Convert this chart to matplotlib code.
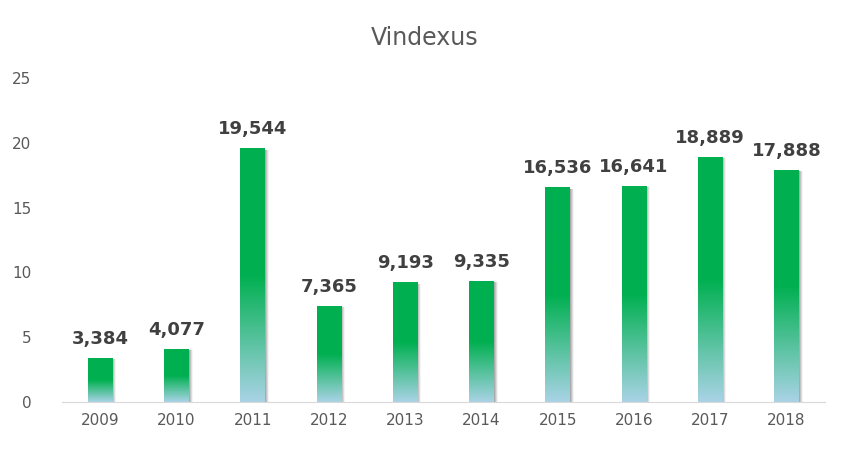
import matplotlib
matplotlib.use("Agg")
import matplotlib.pyplot as plt
import numpy as np
from matplotlib.colors import LinearSegmentedColormap

years = ["2009","2010","2011","2012","2013","2014","2015","2016","2017","2018"]
values = [3.384, 4.077, 19.544, 7.365, 9.193, 9.335, 16.536, 16.641, 18.889, 17.888]
labels = ["3,384","4,077","19,544","7,365","9,193","9,335","16,536","16,641","18,889","17,888"]

fig = plt.figure(figsize=(8.5, 4.51), dpi=100)
ax = fig.add_axes([0.073, 0.109, 0.897, 0.718])
cmap = LinearSegmentedColormap.from_list("g", [(0, "#a9d3e6"), (0.5, "#00b050"), (1, "#00b050")])
grad = np.linspace(0, 1, 256).reshape(-1, 1)
shgrad = np.linspace(1, 0, 64).reshape(1, -1)
shcmap = LinearSegmentedColormap.from_list("s", [(0, (0.5,0.5,0.5,0)), (1, (0.45,0.45,0.45,0.7))])
w = 0.32
for i, v in enumerate(values):
    ax.imshow(shgrad, extent=(i + w/2, i + w/2 + 0.05, 0, v - 0.1), origin="lower",
              aspect="auto", cmap=shcmap, zorder=1)
    ax.imshow(grad, extent=(i - w/2, i + w/2, 0, v), origin="lower",
              aspect="auto", cmap=cmap, zorder=2)
    ax.text(i, v + 0.8, labels[i], ha="center", va="bottom", fontsize=13,
            fontweight="bold", color="#404040")
ax.set_xlim(-0.5, 9.5)
ax.set_ylim(0, 25)
ax.set_xticks(range(len(years)))
ax.set_xticklabels(years)
ax.set_yticks([0, 5, 10, 15, 20, 25])
ax.tick_params(colors="#595959", labelsize=11, length=0)
for s in ["top", "right", "left"]:
    ax.spines[s].set_visible(False)
ax.spines["bottom"].set_color("#d9d9d9")
ax.tick_params(axis="y", pad=22)
ax.tick_params(axis="x", pad=8)
fig.text(0.5, 0.915, "Vindexus", ha="center", va="center", fontsize=17, color="#595959")
fig.savefig("out.png", dpi=100)
